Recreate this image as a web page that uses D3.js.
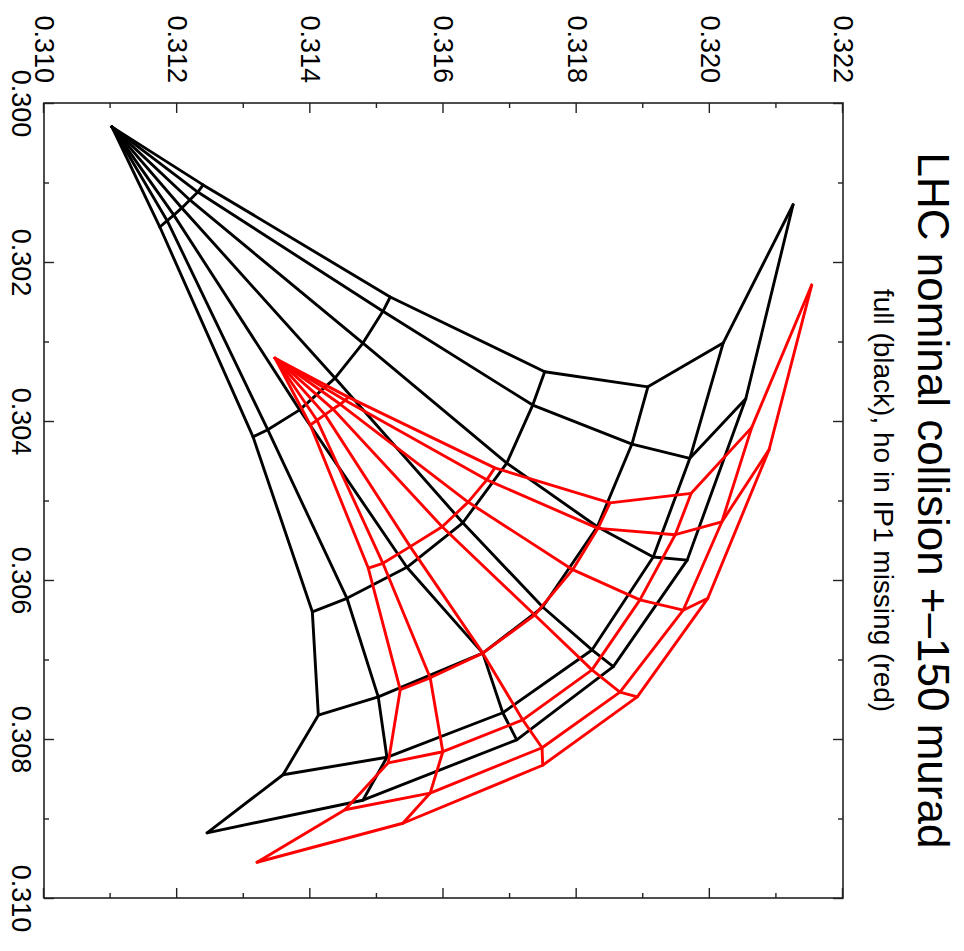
<!DOCTYPE html>
<html>
<head>
<meta charset="utf-8">
<script src="https://cdn.jsdelivr.net/npm/d3@7"></script>
<style>
  html, body { margin: 0; padding: 0; background: #fff; }
  text { font-family: "Liberation Sans", Arial, Helvetica, sans-serif; fill: #000; }
</style>
</head>
<body>
<svg id="chart" width="964" height="951"></svg>
<script>
// Tune footprints. Each footprint has an apex (zero amplitude) and six
// amplitude rings; every ring lists seven launch angles (rays A..G).
const qxMajor = [0.300, 0.302, 0.304, 0.306, 0.308, 0.310];
const qxMinor = [0.301, 0.303, 0.305, 0.307, 0.309];
const qyMajor = [0.310, 0.312, 0.314, 0.316, 0.318, 0.320, 0.322];
const qyMinor = [0.311, 0.313, 0.315, 0.317, 0.319, 0.321];

const titleText = "LHC nominal collision +\u2013150 murad";
const subtitleText = "full (black), ho in IP1 missing (red)";

// full configuration (black)
const fullApex = [0.30030, 0.31102];
const fullQx = [
  [0.30103, 0.30112, 0.30122, 0.30132, 0.30141, 0.30148, 0.30156],
  [0.30244, 0.30262, 0.30302, 0.30346, 0.30386, 0.30411, 0.30420],
  [0.30338, 0.30380, 0.30453, 0.30528, 0.30584, 0.30623, 0.30640],
  [0.30357, 0.30429, 0.30533, 0.30634, 0.30692, 0.30747, 0.30770],
  [0.30302, 0.30447, 0.30571, 0.30688, 0.30767, 0.30823, 0.30845],
  [0.30128, 0.30372, 0.30575, 0.30709, 0.30801, 0.30877, 0.30918]
];
const fullQy = [
  [0.31239, 0.31231, 0.31219, 0.31207, 0.31195, 0.31185, 0.31174],
  [0.31520, 0.31509, 0.31479, 0.31437, 0.31384, 0.31336, 0.31314],
  [0.31752, 0.31734, 0.31695, 0.31629, 0.31545, 0.31455, 0.31403],
  [0.31907, 0.31883, 0.31831, 0.31749, 0.31659, 0.31502, 0.31412],
  [0.32020, 0.31970, 0.31915, 0.31823, 0.31689, 0.31515, 0.31359],
  [0.32125, 0.32054, 0.31966, 0.31855, 0.31710, 0.31479, 0.31245]
];

// head-on in IP1 missing (red)
const hoApex = [0.30321, 0.31347];
const hoQx = [
  [0.30370, 0.30374, 0.30379, 0.30385, 0.30392, 0.30399, 0.30405],
  [0.30459, 0.30474, 0.30502, 0.30533, 0.30558, 0.30579, 0.30585],
  [0.30503, 0.30535, 0.30587, 0.30644, 0.30692, 0.30723, 0.30738],
  [0.30491, 0.30543, 0.30625, 0.30713, 0.30776, 0.30816, 0.30830],
  [0.30408, 0.30527, 0.30638, 0.30741, 0.30811, 0.30868, 0.30889],
  [0.30229, 0.30436, 0.30623, 0.30747, 0.30833, 0.30906, 0.30955]
];
const hoQy = [
  [0.31457, 0.31452, 0.31445, 0.31434, 0.31422, 0.31410, 0.31400],
  [0.31677, 0.31665, 0.31637, 0.31598, 0.31550, 0.31509, 0.31487],
  [0.31850, 0.31832, 0.31794, 0.31737, 0.31659, 0.31580, 0.31535],
  [0.31972, 0.31948, 0.31895, 0.31823, 0.31719, 0.31599, 0.31517],
  [0.32063, 0.32018, 0.31960, 0.31865, 0.31748, 0.31580, 0.31452],
  [0.32153, 0.32089, 0.31997, 0.31891, 0.31749, 0.31539, 0.31320]
];

// ---- layout: the plot is drawn upright in a group and turned a quarter turn
const plotW = 795, plotH = 799;
const svg = d3.select("#chart");
const g = svg.append("g").attr("transform", "translate(843,103) rotate(90)");

const x = d3.scaleLinear().domain([0.300, 0.310]).range([0, plotW]);
const y = d3.scaleLinear().domain([0.310, 0.322]).range([plotH, 0]);
const fmt = d3.format(".3f");

function styleAxis(sel) {
  sel.select(".domain").remove();
  sel.selectAll(".tick line").attr("stroke", "#222").attr("stroke-width", 1.4);
  sel.selectAll("text").attr("font-size", 27).attr("fill", "#000")
     .attr("font-family", "'Liberation Sans', Arial, sans-serif");
}

// Qx axis (bottom of the upright plot) with labels, mirrored on the top
g.append("g").attr("transform", `translate(0,${plotH})`)
  .call(d3.axisBottom(x).tickValues(qxMajor).tickSize(-10).tickPadding(13).tickFormat(fmt))
  .call(styleAxis);
g.append("g").attr("transform", `translate(0,${plotH})`)
  .call(d3.axisBottom(x).tickValues(qxMinor).tickSize(-5).tickFormat(""))
  .call(styleAxis);
g.append("g")
  .call(d3.axisTop(x).tickValues(qxMajor).tickSize(-10).tickFormat(""))
  .call(styleAxis);
g.append("g")
  .call(d3.axisTop(x).tickValues(qxMinor).tickSize(-5).tickFormat(""))
  .call(styleAxis);

// Qy axis (left of the upright plot) with labels, mirrored on the right
g.append("g")
  .call(d3.axisLeft(y).tickValues(qyMajor).tickSize(-10).tickPadding(20).tickFormat(fmt))
  .call(styleAxis);
g.append("g")
  .call(d3.axisLeft(y).tickValues(qyMinor).tickSize(-5).tickFormat(""))
  .call(styleAxis);
g.append("g").attr("transform", `translate(${plotW},0)`)
  .call(d3.axisRight(y).tickValues(qyMajor).tickSize(-10).tickFormat(""))
  .call(styleAxis);
g.append("g").attr("transform", `translate(${plotW},0)`)
  .call(d3.axisRight(y).tickValues(qyMinor).tickSize(-5).tickFormat(""))
  .call(styleAxis);

// frame
g.append("rect")
  .attr("x", 0).attr("y", 0).attr("width", plotW).attr("height", plotH)
  .attr("fill", "none").attr("stroke", "#222").attr("stroke-width", 1.6);

// ---- footprints
const line = d3.line().x(d => x(d[0])).y(d => y(d[1]));

function footprint(apex, qx, qy, color) {
  const fp = g.append("g")
    .attr("fill", "none").attr("stroke", color)
    .attr("stroke-width", 2.9)
    .attr("stroke-linejoin", "round").attr("stroke-linecap", "round");
  const nRing = qx.length, nAngle = qx[0].length;
  // rays: apex out through every ring at a fixed launch angle
  for (let j = 0; j < nAngle; j++) {
    const pts = [apex];
    for (let i = 0; i < nRing; i++) pts.push([qx[i][j], qy[i][j]]);
    fp.append("path").attr("d", line(pts));
  }
  // rings: fixed amplitude across all launch angles
  for (let i = 0; i < nRing; i++) {
    const pts = qx[i].map((v, j) => [v, qy[i][j]]);
    fp.append("path").attr("d", line(pts));
  }
}

footprint(fullApex, fullQx, fullQy, "#000");
footprint(hoApex, hoQx, hoQy, "#ff0000");

// ---- titles (above the upright plot)
g.append("text")
  .attr("x", plotW / 2).attr("y", -75)
  .attr("text-anchor", "middle").attr("font-size", 44)
  .text(titleText);
g.append("text")
  .attr("x", plotW / 2).attr("y", -31)
  .attr("text-anchor", "middle").attr("font-size", 28)
  .text(subtitleText);
</script>
</body>
</html>
